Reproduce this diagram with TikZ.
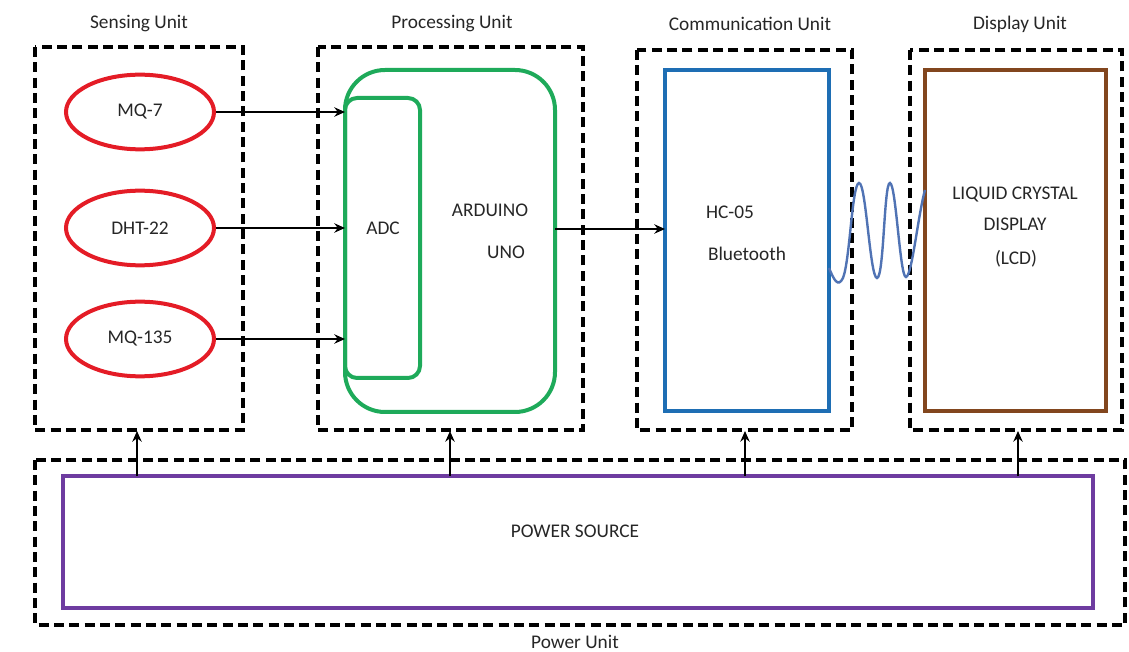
\documentclass[tikz,border=0pt]{standalone}
\usepackage{fontspec}
\setmainfont{Carlito}
\usetikzlibrary{arrows.meta,shapes.geometric}
\definecolor{sensred}{RGB}{228,28,38}
\definecolor{ardgreen}{RGB}{30,170,90}
\definecolor{btblue}{RGB}{30,110,180}
\definecolor{lcdbrown}{RGB}{130,70,30}
\definecolor{pwrpurple}{RGB}{110,60,160}
\definecolor{wave}{RGB}{80,115,180}
\tikzset{
  unitbox/.style={draw=black,line width=3pt,dash pattern=on 7.5pt off 4pt},
  sensor/.style={draw=sensred,ellipse,line width=3pt,minimum width=111pt,minimum height=56pt},
  lbl/.style={font=\fontsize{14.5}{17}\selectfont,inner sep=0pt,text=black!85},
  conn/.style={-{Stealth[length=8pt,width=7pt]},line width=1.8pt,black},
}
\begin{document}
\begin{tikzpicture}[x=0.75pt,y=-0.75pt]
\useasboundingbox (0,0) rectangle (1129,652);
% unit boxes
\draw[unitbox] (35,47) rectangle (243,430);
\draw[unitbox] (318,47) rectangle (583,430);
\draw[unitbox] (637,50) rectangle (852,430);
\draw[unitbox] (910,50) rectangle (1122,430);
\draw[unitbox] (35,460) rectangle (1125,625);
\node[lbl] (lsens) at (139,24) {Sensing Unit};
\node[lbl] (lproc) at (452,24) {Processing Unit};
\node[lbl] (lcomm) at (750,24) {Communication Unit};
\node[lbl] (ldisp) at (1020,24) {Display Unit};
\node[lbl] (lpow) at (575,642) {Power Unit};
% sensors
\node[sensor,lbl,inner sep=0pt] (mq7) at (140,112) {MQ-7};
\node[sensor,lbl,inner sep=0pt] (dht) at (140,228) {DHT-22};
\node[sensor,lbl,inner sep=0pt] (mq135) at (140,339) {MQ-135};
% arduino
\draw[ardgreen,line width=3pt,rounded corners=30pt] (345,70) rectangle (555,412);
\draw[ardgreen,line width=3pt,rounded corners=9pt] (345,98) rectangle (420,378);
\coordinate (adcL1) at (345,112);
\coordinate (adcL2) at (345,228);
\coordinate (adcL3) at (345,339);
\coordinate (ardR) at (555,229);
\node[lbl] (adc) at (383,228) {ADC};
\node[lbl] (ard) at (490,210) {ARDUINO};
\node[lbl] (uno) at (506,252) {UNO};
% bluetooth
\draw[btblue,line width=3pt] (665,70) rectangle (829,411);
\coordinate (btL) at (665,229);
\node[lbl] (hc) at (730,212) {HC-05};
\node[lbl] (bt) at (747,254) {Bluetooth};
% lcd
\draw[lcdbrown,line width=3pt] (925,70) rectangle (1106,411);
\node[lbl] (lcd1) at (1015,195) {LIQUID CRYSTAL};
\node[lbl] (lcd2) at (1015,224) {DISPLAY};
\node[lbl] (lcd3) at (1016,259) {(LCD)};
% power source
\draw[pwrpurple,line width=3.2pt] (63,476) rectangle (1093,608);
\node[lbl] (ps) at (575,531) {POWER SOURCE};
% wave
\draw[wave,line width=1.8pt] (829,268)
  .. controls (834,280) and (838,288) .. (843,278)
  .. controls (850,260) and (852,184) .. (859,183)
  .. controls (866,182) and (870,278) .. (877,278)
  .. controls (884,278) and (884,182) .. (890,183)
  .. controls (896,184) and (900,278) .. (906,277)
  .. controls (912,276) and (918,215) .. (925,190);
% connectors
\draw[conn] (mq7.east) -- (adcL1);
\draw[conn] (dht.east) -- (adcL2);
\draw[conn] (mq135.east) -- (adcL3);
\draw[conn] (ardR) -- (btL);
\foreach \x/\n in {137/a,450/b,745/c,1018/d}{
  \coordinate (pb\n) at (\x,476);
  \coordinate (pt\n) at (\x,431);
  \draw[conn] (pb\n) -- (pt\n);
}
\end{tikzpicture}
\end{document}
